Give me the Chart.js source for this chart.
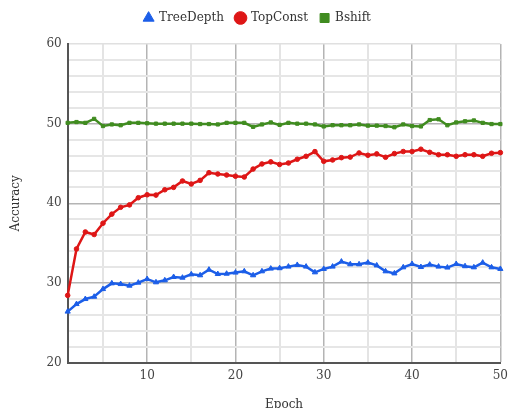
<!DOCTYPE html>
<html>
<head>
<meta charset="utf-8">
<script src="https://cdn.jsdelivr.net/npm/chart.js@4"></script>
<style>
  html, body { margin: 0; padding: 0; background: #fff; }
  #wrap { width: 514px; height: 408px; }
</style>
</head>
<body>
<div id="wrap"><canvas id="accChart" width="514" height="408"></canvas></div>
<script>
const epochs = [1, 2, 3, 4, 5, 6, 7, 8, 9, 10, 11, 12, 13, 14, 15, 16, 17, 18, 19, 20,
  21, 22, 23, 24, 25, 26, 27, 28, 29, 30, 31, 32, 33, 34, 35, 36, 37, 38, 39, 40,
  41, 42, 43, 44, 45, 46, 47, 48, 49, 50];

const treeDepth = [26.4, 27.35, 27.98, 28.27, 29.23, 29.95, 29.86, 29.66, 30.04, 30.49,
  30.08, 30.33, 30.75, 30.66, 31.08, 30.96, 31.67, 31.12, 31.16, 31.3,
  31.46, 30.96, 31.46, 31.8, 31.85, 32.05, 32.26, 32.05, 31.33, 31.76,
  32.05, 32.68, 32.34, 32.34, 32.55, 32.2, 31.46, 31.2, 31.96, 32.38,
  32.0, 32.3, 32.05, 31.93, 32.38, 32.1, 31.96, 32.55, 31.96, 31.76];

const topConst = [28.44, 34.27, 36.4, 36.08, 37.5, 38.64, 39.5, 39.8, 40.7, 41.07,
  41.03, 41.7, 42.0, 42.8, 42.42, 42.88, 43.84, 43.68, 43.55, 43.4,
  43.3, 44.3, 44.94, 45.2, 44.88, 45.06, 45.53, 45.9, 46.49, 45.27,
  45.44, 45.73, 45.8, 46.32, 46.03, 46.2, 45.78, 46.24, 46.5, 46.5,
  46.79, 46.4, 46.1, 46.1, 45.9, 46.1, 46.1, 45.9, 46.28, 46.36];

const bshift = [50.1, 50.2, 50.1, 50.6, 49.7, 49.9, 49.8, 50.1, 50.1, 50.05,
  50.0, 50.0, 50.0, 50.0, 50.0, 49.95, 49.95, 49.9, 50.1, 50.1,
  50.1, 49.6, 49.9, 50.15, 49.85, 50.1, 50.0, 50.0, 49.9, 49.65,
  49.8, 49.8, 49.8, 49.9, 49.75, 49.75, 49.7, 49.55, 49.9, 49.7,
  49.65, 50.45, 50.55, 49.8, 50.15, 50.3, 50.4, 50.1, 49.95, 49.95];

const yTicks = [20, 30, 40, 50, 60];

const fontFamily = "'DejaVu Serif', 'Liberation Serif', serif";

function makeSeries(label, data, color, style) {
  return {
    label: label,
    data: data,
    borderColor: color,
    backgroundColor: color,
    borderWidth: 2.5,
    pointStyle: style,
    pointRadius: style === "triangle" ? 3 : 2.3,
    pointBorderWidth: 1,
    pointHoverRadius: 3,
    tension: 0,
  };
}

// push the plot down a little below the legend
const legendGap = {
  id: "legendGap",
  beforeInit(chart) {
    const fit = chart.legend.fit;
    chart.legend.fit = function () {
      fit.bind(chart.legend)();
      this.height += 10;
    };
  },
};

const ctx = document.getElementById("accChart").getContext("2d");
new Chart(ctx, {
  type: "line",
  data: {
    labels: epochs,
    datasets: [
      makeSeries("TreeDepth", treeDepth, "rgb(28, 94, 232)", "triangle"),
      makeSeries("TopConst", topConst, "rgb(222, 22, 22)", "circle"),
      makeSeries("Bshift", bshift, "rgb(64, 140, 32)", "rect"),
    ],
  },
  plugins: [legendGap],
  options: {
    responsive: false,
    animation: false,
    layout: { padding: { left: 9, right: 8, top: 0, bottom: 0 } },
    plugins: {
      legend: {
        position: "top",
        labels: {
          usePointStyle: true,
          boxWidth: 9,
          boxHeight: 9,
          padding: 12,
          color: "#333",
          font: { family: fontFamily, size: 12 },
        },
      },
      tooltip: { enabled: false },
    },
    scales: {
      x: {
        type: "category",
        offset: false,
        border: { color: "#555", width: 2 },
        grid: {
          drawTicks: false,
          color: (c) => {
            const v = epochs[c.index];
            if (v === undefined) return "transparent";
            if (v === 1) return "#555";
            if (v % 10 === 0) return "#b4b4b4";
            if (v % 5 === 0) return "#e4e4e4";
            return "transparent";
          },
          lineWidth: (c) => {
            const v = epochs[c.index];
            return v % 10 === 0 ? 1.5 : 2;
          },
        },
        ticks: {
          autoSkip: false,
          maxRotation: 0,
          padding: 6,
          color: "#444",
          font: { family: fontFamily, size: 12 },
          callback: (val, i) => (epochs[i] % 10 === 0 ? String(epochs[i]) : ""),
        },
        title: {
          display: true,
          text: "Epoch",
          color: "#333",
          font: { family: fontFamily, size: 12, lineHeight: 1 },
          padding: { top: 10, bottom: -3 },
        },
      },
      y: {
        min: 20,
        max: 60,
        border: { color: "#555", width: 2 },
        grid: {
          drawTicks: false,
          color: (c) => {
            const v = c.tick ? c.tick.value : 0;
            if (v === 60) return "#e0e0e0";
            return yTicks.includes(v) ? "#b4b4b4" : "#e6e6e6";
          },
          lineWidth: (c) => {
            const v = c.tick ? c.tick.value : 0;
            return yTicks.includes(v) ? 1.5 : 2;
          },
        },
        ticks: {
          stepSize: 2,
          autoSkip: false,
          padding: 6,
          color: "#444",
          font: { family: fontFamily, size: 12 },
          callback: (v) => (yTicks.includes(v) ? String(v) : ""),
        },
        title: {
          display: true,
          text: "Accuracy",
          color: "#333",
          font: { family: fontFamily, size: 12 },
          padding: { top: 0, bottom: 17 },
        },
      },
    },
  },
});
</script>
</body>
</html>
